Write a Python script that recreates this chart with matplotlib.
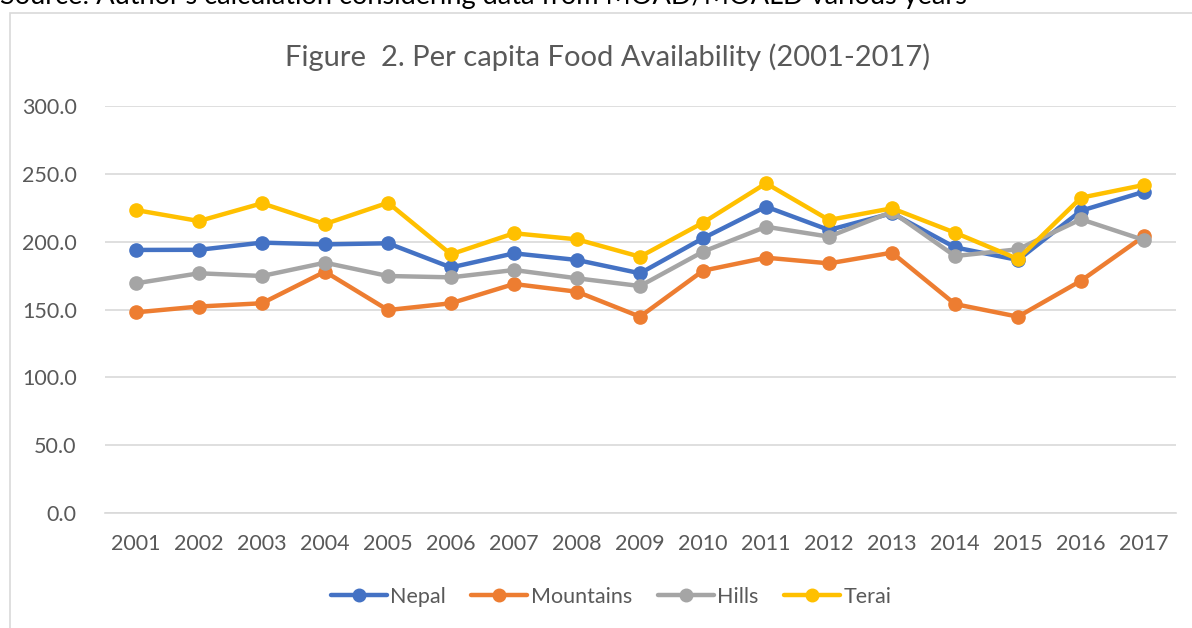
import matplotlib
matplotlib.use("Agg")
import matplotlib.pyplot as plt
from matplotlib.patches import Rectangle

years = [str(y) for y in range(2001, 2018)]
nepal = [193.9, 194.0, 199.3, 198.0, 198.8, 181.0, 191.4, 186.5, 176.7,
         202.5, 225.8, 208.6, 221.0, 195.8, 186.5, 222.8, 236.8]
mountains = [147.9, 152.2, 154.6, 177.9, 149.6, 154.6, 168.8, 163.1, 144.7,
             178.6, 188.2, 184.0, 191.9, 154.0, 144.7, 171.2, 204.0]
hills = [169.3, 176.7, 174.7, 184.5, 174.7, 173.7, 179.1, 173.0, 167.3,
         192.6, 211.0, 203.7, 222.0, 189.4, 194.4, 216.5, 201.2]
terai = [223.3, 215.2, 228.3, 213.0, 228.7, 190.7, 206.2, 201.7, 188.9,
         214.0, 243.0, 216.0, 224.6, 206.6, 187.2, 232.4, 241.8]
yticks = [0, 50, 100, 150, 200, 250, 300]

series = [("Nepal", nepal, "#4472C4"),
          ("Mountains", mountains, "#ED7D31"),
          ("Hills", hills, "#A5A5A5"),
          ("Terai", terai, "#FFC000")]

plt.rcParams["font.family"] = ["Lato", "DejaVu Sans"]
W, H = 1192, 628
fig = plt.figure(figsize=(W / 100, H / 100), dpi=100)

# chart frame
fig.patches.append(Rectangle((10 / W, -0.1), 1.1, 1 - 13 / H + 0.1,
                             transform=fig.transFigure, fill=False,
                             edgecolor="#D9D9D9", linewidth=1.2))

# source line above the chart (cut by the page edge, as in the original)
fig.text(0.0, 1 - 4 / H,
         "Source: Author's calculation considering data from MOAD/MOALD various years",
         fontsize=19.5, color="black", va="baseline", ha="left")

ax = fig.add_axes([104.5 / W, 1 - 513 / H, (1175.5 - 104.5) / W, (513 - 106) / H])
x = range(len(years))
for name, vals, col in series:
    ax.plot(x, vals, color=col, linewidth=3.2, marker="o", markersize=9.5,
            label=name, solid_capstyle="round")

ax.set_xlim(-0.5, len(years) - 0.5)
ax.set_ylim(0, 300)
ax.set_yticks(yticks)
ax.set_yticklabels([f"{v:.1f}" for v in yticks])
ax.set_xticks(list(x))
ax.set_xticklabels(years)
ax.grid(axis="y", color="#D9D9D9", linewidth=1.2)
ax.set_axisbelow(True)
for s in ["top", "right", "left"]:
    ax.spines[s].set_visible(False)
ax.spines["bottom"].set_color("#D9D9D9")
ax.spines["bottom"].set_linewidth(1.2)
ax.tick_params(length=0, labelsize=15.5, colors="#595959")
ax.tick_params(axis="x", pad=15)
ax.tick_params(axis="y", pad=20)

fig.text(608 / W, 1 - 57 / H, "Figure  2. Per capita Food Availability (2001-2017)",
         fontsize=21, color="#595959", ha="center", va="center")

leg = ax.legend(loc="center", bbox_to_anchor=(611 / W, 1 - 597 / H),
                bbox_transform=fig.transFigure, ncol=4, frameon=False,
                fontsize=15.5, handlelength=2.6, handletextpad=0.15,
                columnspacing=1.2, markerscale=0.95)
for t in leg.get_texts():
    t.set_color("#595959")

fig.savefig("out.png", dpi=100)
